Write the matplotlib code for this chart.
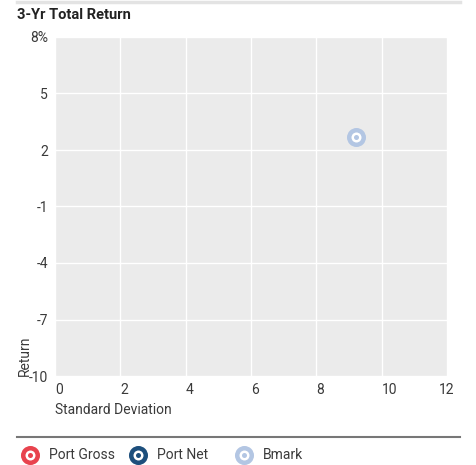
import matplotlib
matplotlib.use("Agg")
from matplotlib import pyplot as plt
from matplotlib.lines import Line2D

plt.rcParams['font.family'] = ['Roboto', 'DejaVu Sans']

# data
series = ['Port Gross', 'Port Net', 'Bmark']
colors = ['#e8434e', '#1d4f7c', '#b3c6e3']
std_dev = [None, None, 9.2]
returns = [None, None, 2.7]
x_ticks = [0, 2, 4, 6, 8, 10, 12]
y_ticks = [-10, -7, -4, -1, 2, 5, 8]
y_labels = ['-10', '-7', '-4', '-1', '2', '5', '8%']

txt = '#3a3a3a'
fs = 10
fig = plt.figure(figsize=(4.77, 4.65), dpi=100)
ax = fig.add_axes([55/477, 1 - 376/465, 392/477, 339/465])
ax.set_facecolor('#ebebeb')
for s in ax.spines.values():
    s.set_visible(False)
ax.set_xlim(0, 12)
ax.set_ylim(-10, 8)
ax.set_xticks(x_ticks)
ax.set_yticks(y_ticks)
ax.set_yticklabels(y_labels)
ax.grid(True, color='white', linewidth=1)
ax.set_axisbelow(True)
ax.tick_params(length=0, labelsize=fs, labelcolor=txt, pad=5)
for lbl in ax.get_xticklabels()[:-1]:
    lbl.set_horizontalalignment('left')

for x, y, c in zip(std_dev, returns, colors):
    if x is None:
        continue
    ax.scatter([x], [y], s=187, color=c, zorder=3, linewidths=0)
    ax.scatter([x], [y], s=52, color='white', zorder=4, linewidths=0)
    ax.scatter([x], [y], s=13, color=c, zorder=5, linewidths=0)

ax.set_xlabel('Standard Deviation', fontsize=fs, color=txt, loc='left', labelpad=4)
ax.set_ylabel('Return', fontsize=fs, color=txt, loc='bottom', labelpad=-2)

fig.text(17/477, 1 - 15/465, '3-Yr Total Return', fontsize=10.5, fontweight='bold',
         color='#222222', va='center', ha='left')
fig.add_artist(Line2D([17/477, 460/477], [1 - 2/465] * 2, color='#e3e3e3', linewidth=2.5))
fig.add_artist(Line2D([17/477, 460/477], [1 - 437/465] * 2, color='#777777', linewidth=1.5))

leg_x = [30, 138, 244]
for lx, name, c in zip(leg_x, series, colors):
    fx, fy = lx/477, 1 - 455/465
    fig.add_artist(Line2D([fx], [fy], marker='o', markersize=13.7, color=c, markeredgewidth=0))
    fig.add_artist(Line2D([fx], [fy], marker='o', markersize=7.2, color='white', markeredgewidth=0))
    fig.add_artist(Line2D([fx], [fy], marker='o', markersize=3.6, color=c, markeredgewidth=0))
    fig.text((lx + 19)/477, fy, name, fontsize=fs, color=txt, va='center', ha='left')

plt.savefig('out.png', dpi=100)
plt.close(fig)
